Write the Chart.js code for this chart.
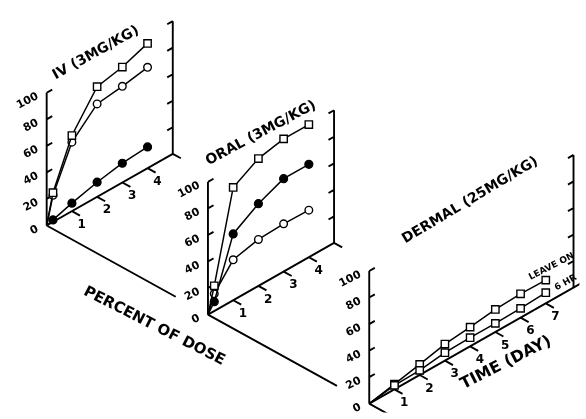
<!DOCTYPE html>
<html>
<head>
<meta charset="utf-8">
<script src="https://cdn.jsdelivr.net/npm/chart.js@4/dist/chart.umd.min.js"></script>
<style>
  html, body { margin: 0; padding: 0; background: #ffffff; }
  #wrap { width: 586px; height: 419px; position: relative; }
</style>
</head>
<body>
<div id="wrap"><canvas id="chart"></canvas></div>
<script>
// Cumulative recovery (percent of dose) against time, one panel per route.
const ivDays = [0, 0.25, 1, 2, 3, 4];
const ivSquares = [0, 22, 57, 83, 87, 94];
const ivOpenCircles = [0, 20, 52, 70, 72.5, 76];
const ivFilledCircles = [0, 1.5, 6, 11, 14.5, 16];

const oralDays = [0, 0.25, 1, 2, 3, 4];
const oralSquares = [0, 19, 85, 96, 100, 100];
const oralFilledCircles = [0, 7, 50, 62, 70, 70];
const oralOpenCircles = [0, 13, 30.5, 35, 36, 35.5];

const dermalDays = [0, 1, 2, 3, 4, 5, 6, 7];
const dermalLeaveOn = [0, 4, 8, 12.5, 14.5, 17, 18, 17.5];
const dermalSixHour = [0, 3, 3.5, 6, 6.5, 6.5, 7, 8];

const percentTicks = [0, 20, 40, 60, 80, 100];
const shortDayTicks = [1, 2, 3, 4];
const longDayTicks = [1, 2, 3, 4, 5, 6, 7];
const panelTitles = ['IV (3MG/KG)', 'ORAL (3MG/KG)', 'DERMAL (25MG/KG)'];

// Oblique projection: day runs up-right, percent runs up, route steps down-right.
const BASE = { x: 41, y: 226 };
const DAY_STEP = { x: 25.8, y: -14.8 };
const PCT_STEP = { x: 0, y: -1.37 };
const ROUTE_STEP = { x: 165, y: 92 };

function proj(route, day, pct) {
  return {
    x: BASE.x + DAY_STEP.x * day + PCT_STEP.x * pct + ROUTE_STEP.x * route,
    y: BASE.y + DAY_STEP.y * day + PCT_STEP.y * pct + ROUTE_STEP.y * route
  };
}

const panels = [
  { route: 0, dayEnd: 5, backDay: 5, ticks: shortDayTicks, cornerTick: true,
    title: panelTitles[0], titleAt: [1.95, 109], titleRot: -29 },
  { route: 1, dayEnd: 5, backDay: 5, ticks: shortDayTicks, cornerTick: true,
    title: panelTitles[1], titleAt: [2.1, 114], titleRot: -28 },
  { route: 2, dayEnd: 8.4, backDay: 8.1, ticks: longDayTicks, cornerTick: false,
    title: panelTitles[2], titleAt: [4.0, 110], titleRot: -31 }
];

// Frame lines of each panel, broken into segments with gaps.
const GAP = { x: null, y: null };
function frameData(p) {
  const r = p.route;
  const pts = [];
  const seg = (a, b) => { pts.push(a, b, GAP); };
  seg(proj(r, 0, 0), proj(r, p.dayEnd, 0));
  seg(proj(r, 0, 0), proj(r, 0, 100));
  seg(proj(r, p.backDay, 0), proj(r, p.backDay, 100));
  percentTicks.filter(v => v > 0).forEach(v => {
    seg(proj(r, 0, v), proj(r, 0.22, v));
    seg(proj(r, p.backDay, v), proj(r, p.backDay - 0.22, v));
  });
  const dayMarks = p.cornerTick ? p.ticks.concat([p.backDay]) : p.ticks;
  dayMarks.forEach(d => seg(proj(r, d, 0), proj(r + 0.05, d, 0)));
  seg(proj(r, 0, 0), proj(r + 0.8, 0, 0));
  return pts;
}

function seriesData(route, days, values) {
  return days.map((d, i) => proj(route, d, values[i]));
}

const datasets = [];
panels.forEach(p => {
  datasets.push({
    data: frameData(p), showLine: true, spanGaps: false,
    borderColor: '#000', borderWidth: 1.9, pointRadius: 0, order: 5
  });
});

function addSeries(route, days, values, style) {
  const base = { borderColor: '#000', borderWidth: 1.5, showLine: true, order: 1,
    pointBorderColor: '#000', pointBorderWidth: 1.4 };
  if (style === 'square') {
    Object.assign(base, { pointStyle: 'rect', pointRadius: 5.2, pointBackgroundColor: '#fff' });
  } else if (style === 'open') {
    Object.assign(base, { pointStyle: 'circle', pointRadius: 3.8, pointBackgroundColor: '#fff' });
  } else {
    Object.assign(base, { pointStyle: 'circle', pointRadius: 3.9, pointBackgroundColor: '#000' });
  }
  const data = seriesData(route, days, values);
  // no marker at the common origin
  base.pointRadius = data.map((_, i) => (days[i] === 0 ? 0 : base.pointRadius));
  base.data = data;
  datasets.push(base);
}

addSeries(0, ivDays, ivSquares, 'square');
addSeries(0, ivDays, ivOpenCircles, 'open');
addSeries(0, ivDays, ivFilledCircles, 'filled');
addSeries(1, oralDays, oralSquares, 'square');
addSeries(1, oralDays, oralFilledCircles, 'filled');
addSeries(1, oralDays, oralOpenCircles, 'open');
addSeries(2, dermalDays, dermalSixHour, 'square');
addSeries(2, dermalDays, dermalLeaveOn, 'square');

// Text laid out in the same projected space.
const FONT = '"DejaVu Sans", "Liberation Sans", sans-serif';
const texts = [];
panels.forEach(p => {
  const r = p.route;
  percentTicks.forEach(v => {
    const a = proj(r, 0, v);
    texts.push({ t: String(v), x: a.x - 9, y: a.y + 3, rot: -27, size: 11, align: 'right' });
  });
  p.ticks.forEach(d => {
    const a = proj(r, d, 0);
    texts.push({ t: String(d), x: a.x + 10, y: a.y + 14, rot: 0, size: 12, align: 'center' });
  });
  const ta = proj(r, p.titleAt[0], p.titleAt[1]);
  texts.push({ t: p.title, x: ta.x, y: ta.y, rot: p.titleRot, size: 14, align: 'center' });
});
texts.push({ t: 'PERCENT OF DOSE', x: 151, y: 330, rot: 27, size: 15, align: 'center' });
texts.push({ t: 'TIME (DAY)', x: 511, y: 368, rot: -27, size: 16, align: 'center' });
texts.push({ t: 'LEAVE ON', x: 557.5, y: 268.5, rot: -27, size: 9, align: 'center' });
texts.push({ t: '6 HR', x: 572, y: 285, rot: -29, size: 9, align: 'center' });

const textPlugin = {
  id: 'obliqueText',
  afterDatasetsDraw(chart) {
    const { ctx } = chart;
    const xs = chart.scales.x, ys = chart.scales.y;
    ctx.save();
    ctx.fillStyle = '#000';
    ctx.textBaseline = 'middle';
    texts.forEach(o => {
      ctx.save();
      ctx.translate(xs.getPixelForValue(o.x), ys.getPixelForValue(o.y));
      ctx.rotate(o.rot * Math.PI / 180);
      ctx.font = 'bold ' + o.size + 'px ' + FONT;
      ctx.textAlign = o.align;
      ctx.fillText(o.t, 0, 0);
      ctx.restore();
    });
    ctx.restore();
  }
};

new Chart(document.getElementById('chart'), {
  type: 'scatter',
  data: { datasets },
  options: {
    responsive: true,
    maintainAspectRatio: false,
    animation: false,
    events: [],
    layout: { padding: 0 },
    plugins: { legend: { display: false }, tooltip: { enabled: false } },
    scales: {
      x: { type: 'linear', min: 0, max: 586, display: false },
      y: { type: 'linear', min: 0, max: 419, reverse: true, display: false }
    }
  },
  plugins: [textPlugin]
});
</script>
</body>
</html>
